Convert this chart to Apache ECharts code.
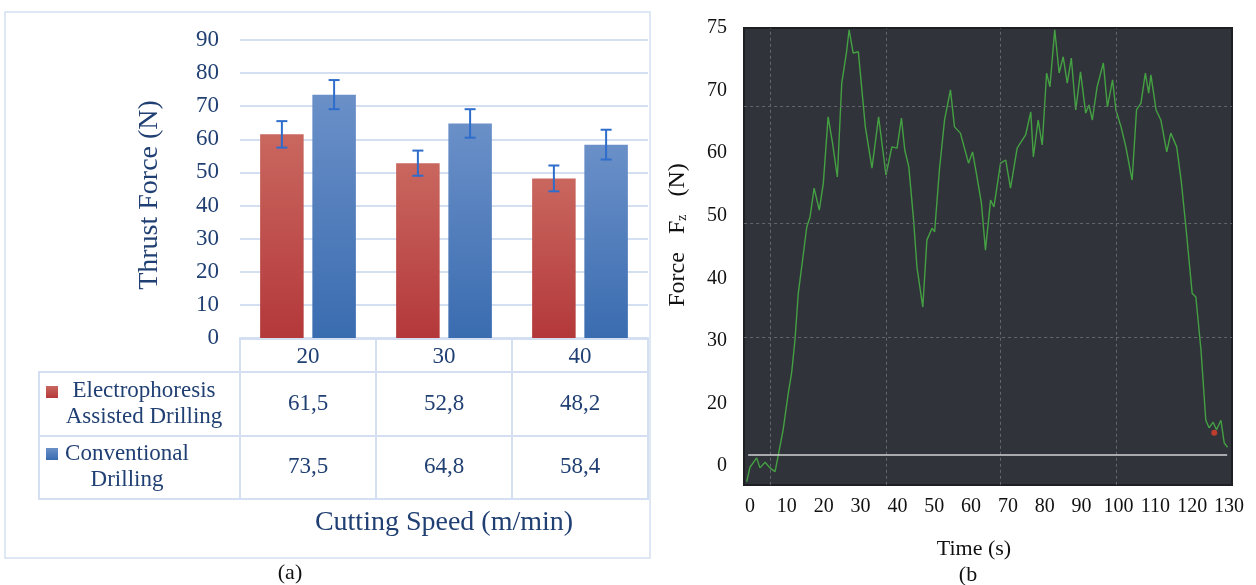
<!DOCTYPE html>
<html><head><meta charset="utf-8">
<script src="https://cdn.jsdelivr.net/npm/echarts@6/dist/echarts.min.js"></script>
<style>html,body{margin:0;padding:0;background:#fff}#c{width:1256px;height:585px}</style>
</head><body><div id="c"></div>
<script>
// ---------- data: panel (a) ----------
const speedCategories = ['20', '30', '40'];
const seriesNames = ['Electrophoresis Assisted Drilling', 'Conventional Drilling'];
const legendLines = [['Electrophoresis', 'Assisted Drilling'], ['Conventional', 'Drilling']];
const eadForce = [61.5, 52.8, 48.2];
const convForce = [73.5, 64.8, 58.4];
const eadError = [4.0, 3.8, 3.9];
const convError = [4.4, 4.3, 4.5];

// ---------- data: panel (b) ----------
const timeS = [-0.9,0,1.8,2.7,4.1,5.4,6.8,7.7,9.0,10.4,
  11.3,12.2,13.1,14.5,15.4,16.3,17.4,18.8,19.9,21.2,
  22.4,23.7,24.9,26.2,26.9,28.0,29.4,30.7,31.3,33.1,
  34.9,36.9,38.5,39.9,41.1,42.0,43.1,44.4,45.3,46.9,
  48.0,49.4,50.1,51.4,52.8,54.4,55.5,57.1,59.3,60.4,
  61.6,62.8,63.9,65.3,66.2,68.0,69.4,70.7,72.5,74.8,
  76.2,76.9,78.2,79.3,80.5,81.4,82.7,83.9,85.0,86.1,
  87.2,88.4,89.7,91.1,92.0,92.9,94.2,95.9,97.0,98.4,
  99.3,100.7,102.0,103.7,104.9,106.1,107.3,108.2,108.8,110.2,
  111.5,113.1,114.2,115.8,117.0,118.3,120.0,121.0,122.4,123.7,
  124.6,125.7,126.6,127.8,128.7,129.6];
const forceN = [7.5,9.8,11.3,9.7,10.6,9.7,9.1,11.8,15.8,21.7,
  24.9,30.1,37.6,44.0,48.2,49.8,54.4,50.9,55.2,65.8,
  61.6,56.2,71.2,76.2,79.7,76.0,76.2,68.0,64.2,57.6,
  65.8,56.5,61.0,60.8,65.6,60.5,57.8,49.3,41.8,35.4,
  46.1,48.0,47.4,57.3,65.3,70.1,64.2,63.2,58.4,60.2,
  56.2,52.0,44.5,52.5,51.4,58.4,58.9,54.4,60.8,62.9,
  66.6,59.4,65.3,61.3,72.8,70.6,79.7,72.8,75.4,71.2,
  75.2,66.9,73.0,66.4,67.7,65.3,70.6,74.4,67.4,71.7,
  66.9,64.2,61.0,55.7,66.9,68.0,72.8,69.6,72.5,66.9,
  65.3,60.2,63.2,61.0,55.7,48.2,37.6,37.0,28.5,17.3,
  16.1,17.0,15.8,17.3,13.7,13.0];
const markerTime = [126.0];
const markerForce = [15.3];
const forceTickValues = [10, 20, 30, 40, 50, 60, 70, 80];
const forceTickLabels = ['0', '20', '30', '40', '50', '60', '70', '75'];
const frameGridTimes = [5.6, 36.9, 68.0, 99.4];
const frameGridForces = [67.5, 48.8, 30.5];
const baselineForce = 11.8;
const frameTimeRange = [-1.63, 130.81];
const frameForceRange = [6.96, 80];

// ---------- styles ----------
const SERIF = "'Liberation Serif','Times New Roman',serif";
const NAVY = '#203f72';
const PALE = '#d4e0f1';
const redGrad = new echarts.graphic.LinearGradient(0, 0, 0, 1, [{offset: 0, color: '#c9675f'}, {offset: 1, color: '#b4383a'}]);
const blueGrad = new echarts.graphic.LinearGradient(0, 0, 0, 1, [{offset: 0, color: '#6b90c8'}, {offset: 1, color: '#3a6cb0'}]);
const ERR = '#2e6dcb';

function errRender(sign) {
  return function (params, api) {
    const x = api.value(0), v = api.value(1), e = api.value(2);
    const band = api.size([1, 0])[0];
    const bw = band * 0.32, gap = bw * 0.2;
    const off = sign * (bw + gap) / 2;
    const top = api.coord([x, v + e]), bot = api.coord([x, v - e]);
    const cx = top[0] + off, cap = 5.5;
    const st = {stroke: ERR, lineWidth: 2};
    return {type: 'group', children: [
      {type: 'line', shape: {x1: cx, y1: top[1], x2: cx, y2: bot[1]}, style: st},
      {type: 'line', shape: {x1: cx - cap, y1: top[1], x2: cx + cap, y2: top[1]}, style: st},
      {type: 'line', shape: {x1: cx - cap, y1: bot[1], x2: cx + cap, y2: bot[1]}, style: st}
    ]};
  };
}

const tableData = [];
seriesNames.forEach((n, r) => {
  const vals = r === 0 ? eadForce : convForce;
  speedCategories.forEach((c, i) => tableData.push([c, n, vals[i]]));
});

const tLo = frameTimeRange[0] + 0.03, tHi = frameTimeRange[1] - 0.03;
const fLo = frameForceRange[0] + 0.03, fHi = frameForceRange[1] - 0.03;
const markLineData = [];
frameGridTimes.forEach(t => markLineData.push([{coord: [t, fLo]}, {coord: [t, fHi]}]));
frameGridForces.forEach(f => markLineData.push([{coord: [tLo, f]}, {coord: [tHi, f]}]));
markLineData.push([{coord: [-0.5, baselineForce], lineStyle: {color: '#cfd1d4', type: 'solid', width: 1.5}}, {coord: [129.5, baselineForce]}]);

const chart = echarts.init(document.getElementById('c'));
chart.setOption({
  animation: false,
  backgroundColor: '#ffffff',
  graphic: [
    {type: 'rect', shape: {x: 5, y: 12, width: 645, height: 546}, style: {fill: 'none', stroke: PALE, lineWidth: 1.5}, z: -10},
    {type: 'text', style: {x: 290, y: 573, text: '(a)', textAlign: 'center', textVerticalAlign: 'middle', fontSize: 22, fontFamily: SERIF, fill: '#111'}},
    {type: 'text', style: {x: 968, y: 575, text: '(b', textAlign: 'center', textVerticalAlign: 'middle', fontSize: 22, fontFamily: SERIF, fill: '#111'}}
  ],
  legend: {
    data: seriesNames, orient: 'vertical', left: 41, top: 381,
    itemWidth: 12, itemHeight: 12, itemGap: 50, icon: 'rect',
    formatter: () => '', textStyle: {fontSize: 10}, selectedMode: false
  },
  grid: [
    {left: 240, top: 40, width: 408, height: 298},
    {left: 240, top: 339, width: 408, height: 33, show: true, borderColor: PALE, borderWidth: 2},
    {left: 240, top: 372, width: 408, height: 127, show: true, borderColor: PALE, borderWidth: 2},
    {left: 39, top: 372, width: 201, height: 127, show: true, borderColor: PALE, borderWidth: 2},
    {left: 744, top: 28, width: 488, height: 457, show: true, backgroundColor: '#30343a', borderColor: '#1e1f22', borderWidth: 2},
    {left: 750, top: 28, width: 479, height: 438}
  ],
  xAxis: [
    {gridIndex: 0, type: 'category', data: speedCategories,
     axisLine: {lineStyle: {color: PALE, width: 2}}, axisTick: {show: false}, axisLabel: {show: false},
     name: 'Cutting Speed (m/min)', nameLocation: 'middle', nameGap: 171,
     nameTextStyle: {fontSize: 28, fontFamily: SERIF, color: NAVY}},
    {gridIndex: 1, type: 'category', data: speedCategories, axisLine: {show: false}, axisTick: {show: false},
     axisLabel: {show: false, interval: 0}, splitLine: {show: true, interval: 0, lineStyle: {color: PALE, width: 2}}},
    {gridIndex: 2, type: 'category', data: speedCategories, position: 'top', axisLine: {show: false}, axisTick: {show: false},
     axisLabel: {interval: 0, margin: 4, fontSize: 23, fontFamily: SERIF, color: NAVY},
     splitLine: {show: true, interval: 0, lineStyle: {color: PALE, width: 2}}},
    {gridIndex: 3, type: 'value', show: false},
    {gridIndex: 4, type: 'value', show: false, min: frameTimeRange[0], max: frameTimeRange[1]},
    {gridIndex: 5, type: 'value', min: 0, max: 130, interval: 10,
     axisLine: {show: false}, axisTick: {show: false}, splitLine: {show: false},
     axisLabel: {margin: 31, fontSize: 20, fontFamily: SERIF, color: '#111'},
     name: 'Time (s)', nameLocation: 'middle', nameGap: 72,
     nameTextStyle: {fontSize: 22, fontFamily: SERIF, color: '#111', padding: [0, 31, 0, 0]}}
  ],
  yAxis: [
    {gridIndex: 0, type: 'value', min: 0, max: 90, interval: 10,
     axisLine: {show: false}, axisTick: {show: false},
     axisLabel: {margin: 21, fontSize: 23, fontFamily: SERIF, color: NAVY},
     splitLine: {lineStyle: {color: PALE, width: 2}},
     name: 'Thrust Force (N)', nameLocation: 'middle', nameGap: 76, nameRotate: 90,
     nameTextStyle: {fontSize: 28, fontFamily: SERIF, color: NAVY, padding: [0, 12, 0, 0]}},
    {gridIndex: 1, type: 'value', show: false},
    {gridIndex: 2, type: 'category', data: seriesNames, inverse: true, axisLine: {show: false}, axisTick: {show: false},
     axisLabel: {show: false, interval: 0}, splitLine: {show: true, interval: 0, lineStyle: {color: PALE, width: 2}}},
    {gridIndex: 3, type: 'category', data: seriesNames, inverse: true, axisLine: {show: false}, axisTick: {show: false},
     splitLine: {show: true, interval: 0, lineStyle: {color: PALE, width: 2}},
     axisLabel: {inside: true, interval: 0, margin: 25, color: NAVY, fontFamily: SERIF, fontSize: 23,
       formatter: (v, i) => legendLines[i].map(l => '{' + (i === 0 ? 'a' : 'b') + '|' + l + '}').join('\n'),
       rich: {
         a: {width: 160, align: 'center', fontSize: 23, lineHeight: 26, fontFamily: SERIF, color: NAVY},
         b: {width: 126, align: 'center', fontSize: 23, lineHeight: 26, fontFamily: SERIF, color: NAVY}
       }}},
    {gridIndex: 4, type: 'value', show: false, min: frameForceRange[0], max: frameForceRange[1]},
    {gridIndex: 5, type: 'value', min: 10, max: 80, interval: 10,
     axisLine: {show: false}, axisTick: {show: false}, splitLine: {show: false},
     axisLabel: {margin: 23, fontSize: 20, fontFamily: SERIF, color: '#111',
       formatter: v => forceTickLabels[forceTickValues.indexOf(v)] ?? ''},
     name: 'Force   F{sub|z}   (N)', nameLocation: 'middle', nameGap: 60, nameRotate: 90,
     nameTextStyle: {fontSize: 24, fontFamily: SERIF, color: '#111', padding: [0, 0, 0, 24],
       rich: {sub: {fontSize: 14, fontFamily: SERIF, color: '#111', padding: [9, 0, 0, 0]}}}}
  ],
  series: [
    {name: seriesNames[0], type: 'bar', xAxisIndex: 0, yAxisIndex: 0, data: eadForce,
     barWidth: '32%', barGap: '20%', itemStyle: {color: redGrad}},
    {name: seriesNames[1], type: 'bar', xAxisIndex: 0, yAxisIndex: 0, data: convForce,
     barWidth: '32%', barGap: '20%', itemStyle: {color: blueGrad}},
    {type: 'custom', xAxisIndex: 0, yAxisIndex: 0, z: 5, renderItem: errRender(-1),
     encode: {x: 0, y: 1}, data: speedCategories.map((c, i) => [i, eadForce[i], eadError[i]])},
    {type: 'custom', xAxisIndex: 0, yAxisIndex: 0, z: 5, renderItem: errRender(1),
     encode: {x: 0, y: 1}, data: speedCategories.map((c, i) => [i, convForce[i], convError[i]])},
    {type: 'scatter', xAxisIndex: 2, yAxisIndex: 2, data: tableData, symbolSize: 2,
     itemStyle: {color: 'rgba(255,255,255,0)'}, silent: true,
     label: {show: true, position: 'inside', formatter: p => p.value[2].toFixed(1).replace('.', ','),
       fontSize: 23, fontFamily: SERIF, color: NAVY, opacity: 1, textBorderWidth: 0, textBorderColor: 'transparent'}},
    {type: 'line', xAxisIndex: 4, yAxisIndex: 4, data: timeS.map((t, i) => [t, forceN[i]]),
     showSymbol: false, lineStyle: {color: '#44a042', width: 1.4}, z: 4,
     markLine: {silent: true, symbol: 'none', label: {show: false},
       lineStyle: {color: '#62666d', type: [3, 3], width: 1}, data: markLineData}},
    {type: 'scatter', xAxisIndex: 4, yAxisIndex: 4, data: markerTime.map((t, i) => [t, markerForce[i]]),
     symbolSize: 6, itemStyle: {color: '#e0402c'}, z: 6}
  ]
});
</script>
</body></html>
